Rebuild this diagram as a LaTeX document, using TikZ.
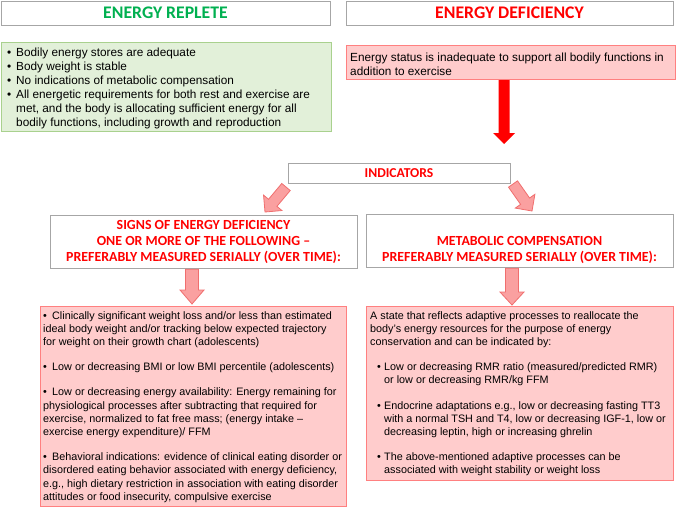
\documentclass[tikz,border=0pt]{standalone}
\usepackage{fontspec}
\setmainfont{Liberation Sans}
\newfontfamily\hdfont{Carlito}
\usetikzlibrary{calc}
\definecolor{hdgreen}{RGB}{0,176,80}
\definecolor{hdred}{RGB}{255,0,0}
\definecolor{hdgrey}{RGB}{166,166,166}
\definecolor{greenfill}{RGB}{226,240,217}
\definecolor{greenline}{RGB}{169,209,142}
\definecolor{pinkfill}{RGB}{255,204,204}
\definecolor{pinkline}{RGB}{255,128,128}
\definecolor{arrowfill}{RGB}{250,160,160}
\definecolor{arrowline}{RGB}{240,110,110}
\newcommand{\blockarr}[6]{%
  \coordinate (hb) at ($(#3)!#6!(#2)$);
  \path[#1] ($(#2)!#4!90:(#3)$) -- ($(hb)!#4!-90:(#2)$) -- ($(hb)!#5!-90:(#2)$) -- (#3)
    -- ($(hb)!#5!90:(#2)$) -- ($(hb)!#4!90:(#2)$) -- ($(#2)!#4!-90:(#3)$) -- cycle;}
\newcommand{\bul}{\makebox[9pt][l]{•}}
\begin{document}
\begin{tikzpicture}[x=1pt,y=-1pt,
  hdbox/.style={draw=hdgrey, line width=1.2pt, fill=white, inner sep=0pt, anchor=north west},
  greenbox/.style={draw=greenline, fill=greenfill, line width=1pt, inner sep=0pt, anchor=north west},
  pinkbox/.style={draw=pinkline, fill=pinkfill, line width=1pt, inner sep=0pt, anchor=north west},
  bigtitle/.style={font=\hdfont\bfseries\fontsize{17.7}{20}\selectfont, inner sep=0pt},
  midtitle/.style={font=\hdfont\bfseries\fontsize{13.9}{16}\selectfont, inner sep=0pt, align=center, text=hdred},
  bodybig/.style={font=\fontsize{11.8}{14}\selectfont, align=left, inner sep=0pt, anchor=north west},
  bodysmall/.style={font=\fontsize{10.8}{13.2}\selectfont, align=left, inner sep=0pt, anchor=north west},
  redarrow/.style={fill=hdred, draw=none},
  pinkarrow/.style={fill=arrowfill, draw=arrowline, line width=0.8pt, line join=miter}]
\useasboundingbox (0,0) rectangle (677,507);
% top headers
\node[hdbox, minimum width=329pt, minimum height=24pt] (replete) at (1,1) {};
\node[bigtitle, text=hdgreen] (repletetxt) at (165.5,13) {ENERGY REPLETE};
\node[hdbox, minimum width=327pt, minimum height=24pt] (deficiency) at (346,1) {};
\node[bigtitle, text=hdred] (deficiencytxt) at (509.5,13) {ENERGY DEFICIENCY};
% green box
\node[greenbox, minimum width=330pt, minimum height=89pt] (green) at (1,42) {};
\node[bodybig] (greentxt) at (7,47.5) {\bul Bodily energy stores are adequate\\
\bul Body weight is stable\\
\bul No indications of metabolic compensation\\
\bul All energetic requirements for both rest and exercise are\\
\hspace*{9pt}met, and the body is allocating sufficient energy for all\\
\hspace*{9pt}bodily functions, including growth and reproduction};
% pink top box
\node[pinkbox, minimum width=329pt, minimum height=34pt] (ptop) at (346,45) {};
\node[bodybig] (ptoptxt) at (350,52.5) {Energy status is inadequate to support all bodily functions in\\
addition to exercise};
% indicators
\node[hdbox, minimum width=222pt, minimum height=20pt] (ind) at (288,163) {};
\node[midtitle, font=\hdfont\bfseries\fontsize{13.6}{16}\selectfont] (indtxt) at (399,173) {INDICATORS};
% second level headers
\node[hdbox, minimum width=307pt, minimum height=53pt] (signs) at (50,215) {};
\node[midtitle] (signstxt) at (203.5,242) {SIGNS OF ENERGY DEFICIENCY\\
ONE OR MORE OF THE FOLLOWING –\\
PREFERABLY MEASURED SERIALLY (OVER TIME):};
\node[hdbox, minimum width=307pt, minimum height=53pt] (meta) at (366,214) {};
\node[midtitle] (metatxt) at (519.5,249.5) {METABOLIC COMPENSATION\\
PREFERABLY MEASURED SERIALLY (OVER TIME):};
% lower boxes
\node[pinkbox, minimum width=306pt, minimum height=200pt] (lowl) at (40,306) {};
\node[bodysmall] (lowltxt) at (43,311) {\bul Clinically significant weight loss and/or less than estimated\\
ideal body weight and/or tracking below expected trajectory\\
for weight on their growth chart (adolescents)\\[12pt]
\bul Low or decreasing BMI or low BMI percentile (adolescents)\\[12pt]
\bul Low or decreasing energy availability: Energy remaining for\\
physiological processes after subtracting that required for\\
exercise, normalized to fat free mass; (energy intake –\\
exercise energy expenditure)/ FFM\\[12pt]
\bul Behavioral indications: evidence of clinical eating disorder or\\
disordered eating behavior associated with energy deficiency,\\
e.g., high dietary restriction in association with eating disorder\\
attitudes or food insecurity, compulsive exercise};
\node[pinkbox, minimum width=307pt, minimum height=174pt] (lowr) at (366,306) {};
\node[bodysmall] (lowrtxt) at (370,311) {A state that reflects adaptive processes to reallocate the\\
body’s energy resources for the purpose of energy\\
conservation and can be indicated by:\\[12pt]
\hspace*{7pt}\makebox[7pt][l]{•}Low or decreasing RMR ratio (measured/predicted RMR)\\
\hspace*{14pt}or low or decreasing RMR/kg FFM\\[12pt]
\hspace*{7pt}\makebox[7pt][l]{•}Endocrine adaptations e.g., low or decreasing fasting TT3\\
\hspace*{14pt}with a normal TSH and T4, low or decreasing IGF-1, low or\\
\hspace*{14pt}decreasing leptin, high or increasing ghrelin\\[12pt]
\hspace*{7pt}\makebox[7pt][l]{•}The above-mentioned adaptive processes can be\\
\hspace*{14pt}associated with weight stability or weight loss};
% arrows
\coordinate (ra) at (ptop.south -| 504,0);
\coordinate (rb) at (504,144);
\blockarr{redarrow}{ra}{rb}{5.5pt}{11pt}{11pt}
\coordinate (la) at (286,187);
\coordinate (lb) at (265,212);
\blockarr{pinkarrow}{la}{lb}{5.5pt}{12pt}{12pt}
\coordinate (rra) at (513,184);
\coordinate (rrb) at (532,211);
\blockarr{pinkarrow}{rra}{rrb}{5.5pt}{12pt}{12pt}
\coordinate (da) at (signs.south -| 192,0);
\coordinate (db) at (192,304);
\blockarr{pinkarrow}{da}{db}{6.5pt}{12pt}{14pt}
\coordinate (ea) at (meta.south -| 512,0);
\coordinate (eb) at (512,305);
\blockarr{pinkarrow}{ea}{eb}{6.5pt}{12pt}{13pt}
\end{tikzpicture}
\end{document}
